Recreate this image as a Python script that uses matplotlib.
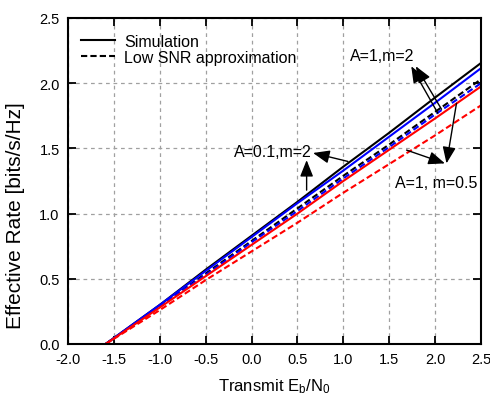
import matplotlib
matplotlib.use("Agg")
import matplotlib.pyplot as plt

plt.rcParams['font.family'] = ['Liberation Sans', 'DejaVu Sans']
plt.rcParams['mathtext.fontset'] = 'custom'
plt.rcParams['mathtext.rm'] = 'Liberation Sans'
plt.rcParams['mathtext.it'] = 'Liberation Sans'

# Data (Transmit Eb/N0 in dB, effective rate in bits/s/Hz)
ebn0 = [-1.59, -1.0, -0.5, 0.0, 0.5, 1.0, 1.5, 2.0, 2.5]
sim_a1_m2   = [0.0, 0.30, 0.57, 0.83, 1.09, 1.36, 1.62, 1.89, 2.155]
sim_a01_m2  = [0.0, 0.30, 0.56, 0.82, 1.08, 1.33, 1.59, 1.85, 2.115]
sim_a1_m05  = [0.0, 0.28, 0.52, 0.76, 1.00, 1.25, 1.49, 1.73, 1.975]
low_a1_m2   = [0.0, 0.29, 0.54, 0.79, 1.04, 1.29, 1.53, 1.78, 2.03]
low_a01_m2  = [0.0, 0.29, 0.53, 0.78, 1.02, 1.27, 1.51, 1.76, 2.00]
low_a1_m05  = [0.0, 0.26, 0.49, 0.71, 0.93, 1.16, 1.38, 1.60, 1.83]

legend_labels = ["Simulation", "Low SNR approximation"]
xticks = [-2.0, -1.5, -1.0, -0.5, 0.0, 0.5, 1.0, 1.5, 2.0, 2.5]
yticks = [0.0, 0.5, 1.0, 1.5, 2.0, 2.5]

fig = plt.figure(figsize=(4.9, 4.02), dpi=100)
ax = fig.add_axes([68/490, 57/402, 413/490, 326/402])

lw = 1.5
dash = (3, 1.5)
ax.plot(ebn0, sim_a1_m2, color='black', lw=lw, label=legend_labels[0])
ax.plot(ebn0, low_a1_m2, color='black', lw=lw, ls='--', dashes=dash, label=legend_labels[1])
ax.plot(ebn0, sim_a01_m2, color='#0000ff', lw=lw)
ax.plot(ebn0, low_a01_m2, color='#0000ff', lw=lw, ls='--', dashes=dash)
ax.plot(ebn0, sim_a1_m05, color='#ff0000', lw=lw)
ax.plot(ebn0, low_a1_m05, color='#ff0000', lw=lw, ls='--', dashes=dash)

ax.set_xlim(-2.0, 2.5)
ax.set_ylim(0.0, 2.5)
ax.set_xticks(xticks)
ax.set_yticks(yticks)
ax.set_xticklabels([f"{v:.1f}" for v in xticks], fontsize=10.5)
ax.set_yticklabels([f"{v:.1f}" for v in yticks], fontsize=10.5)
ax.tick_params(direction='in', length=6, width=1.3, top=True, right=True, pad=6)
for s in ax.spines.values():
    s.set_linewidth(1.5)
ax.grid(True, color='#a0a0a0', ls=(0, (3, 3)), lw=0.9)

ax.set_xlabel(r'Transmit E$_\mathrm{b}$/N$_\mathrm{0}$', fontsize=12)
ax.xaxis.set_label_coords(0.499, -0.098)
ax.set_ylabel('Effective Rate [bits/s/Hz]', fontsize=15)
ax.yaxis.set_label_coords(-0.104, 0.396)

leg = ax.legend(loc='upper left', bbox_to_anchor=(0.005, 0.985), frameon=False,
                fontsize=11.5, handlelength=2.1, labelspacing=0.05, borderpad=0.2,
                handletextpad=0.6)

aprops = dict(arrowstyle='-|>,head_length=1.0,head_width=0.4', color='black', lw=1.0,
              shrinkA=0, shrinkB=0)

ax.text(1.42, 2.21, 'A=1,m=2', fontsize=11.5, ha='center', va='center')
ax.annotate('', xy=(1.74, 2.13), xytext=(2.03, 1.77), arrowprops=aprops)
ax.annotate('', xy=(1.79, 2.13), xytext=(2.07, 1.80), arrowprops=aprops)

ax.text(0.233, 1.477, 'A=0.1,m=2', fontsize=11.5, ha='center', va='center')
ax.annotate('', xy=(0.67, 1.465), xytext=(1.05, 1.40), arrowprops=aprops)
ax.annotate('', xy=(0.60, 1.41), xytext=(0.60, 1.18), arrowprops=aprops)

ax.text(2.01, 1.24, 'A=1, m=0.5', fontsize=11.5, ha='center', va='center')
ax.annotate('', xy=(2.124, 1.385), xytext=(2.233, 1.846), arrowprops=aprops)
ax.annotate('', xy=(2.107, 1.385), xytext=(1.689, 1.487), arrowprops=aprops)

fig.savefig('out.png', dpi=100)
